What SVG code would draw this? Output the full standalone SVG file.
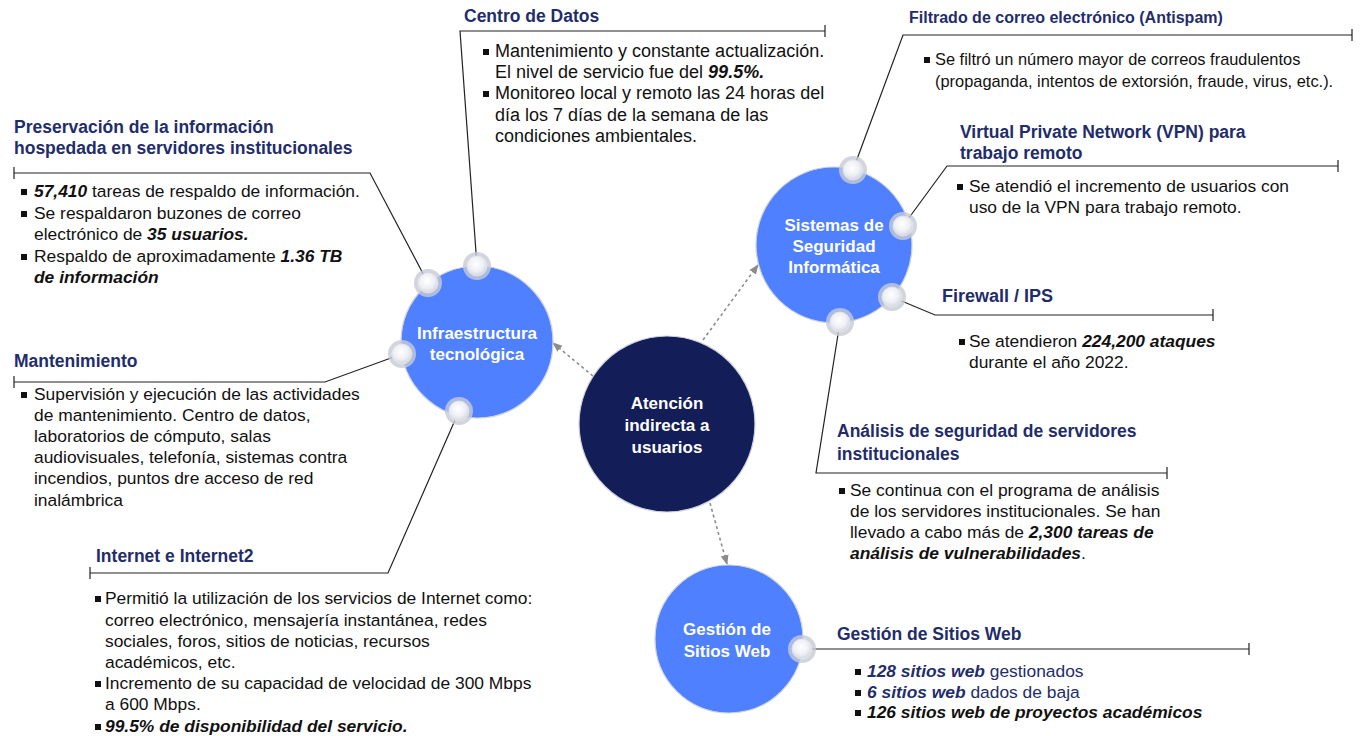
<svg xmlns="http://www.w3.org/2000/svg" width="1362" height="736" viewBox="0 0 1362 736">
<defs>
<style>
text{font-family:"Liberation Sans",Arial,sans-serif;}
.t{font-size:17.5px;font-weight:bold;fill:#1F2D6B;}
.b{font-size:17.4px;fill:#111;}
.bs{font-size:16.4px;fill:#111;}
.bl{font-size:18px;fill:#111;}
.bi{font-weight:bold;font-style:italic;}
.c{font-size:17px;font-weight:bold;fill:#fff;text-anchor:middle;}
.ln{stroke:#222;stroke-width:1.2;fill:none;}
.tk{stroke:#222;stroke-width:1.2;}
.ds{stroke:#8c8c8c;stroke-width:1.6;stroke-dasharray:3 3;fill:none;}
.blue{fill:#4F80FF;stroke:#cfd3dc;stroke-width:1.2;}
.navy{fill:#131D57;stroke:#cfd3dc;stroke-width:1.2;}
.halo{fill:#c7cbd6;opacity:0.8;}
.kin{fill:url(#kg);stroke:#e6e7ec;stroke-width:0.8;}
.sq{fill:#111;}
</style>
<radialGradient id="kg" cx="0.45" cy="0.4" r="0.6">
<stop offset="0" stop-color="#ffffff"/>
<stop offset="0.6" stop-color="#eef0f5"/>
<stop offset="1" stop-color="#d3d6df"/>
</radialGradient>
<marker id="ar" markerWidth="10" markerHeight="10" refX="9" refY="5" orient="auto" markerUnits="userSpaceOnUse">
<path d="M0,1 L10,5 L0,9 z" fill="#8c8c8c"/>
</marker>
</defs>
<rect width="1362" height="736" fill="#fff"/>

<g id="connectors">
<path class="ln" d="M14 173 H370 L428 283"/>
<line class="tk" x1="14" y1="167" x2="14" y2="179"/>
<path class="ln" d="M825 31 H460 L477 266"/>
<line class="tk" x1="825" y1="25" x2="825" y2="37"/>
<path class="ln" d="M1352 35 H903 L853 170"/>
<line class="tk" x1="1352" y1="29" x2="1352" y2="41"/>
<path class="ln" d="M1338 166 H947 L903 226"/>
<line class="tk" x1="1338" y1="160" x2="1338" y2="172"/>
<path class="ln" d="M892 297 L935 315 H1213"/>
<line class="tk" x1="1213" y1="309" x2="1213" y2="321"/>
<path class="ln" d="M840 322 L816 473 H1167"/>
<line class="tk" x1="1167" y1="467" x2="1167" y2="479"/>
<path class="ln" d="M14 382 H325 L402 354"/>
<line class="tk" x1="14" y1="376" x2="14" y2="388"/>
<path class="ln" d="M90 573 H388 L459 411"/>
<line class="tk" x1="90" y1="567" x2="90" y2="579"/>
<path class="ln" d="M802 649 H1249"/>
<line class="tk" x1="1249" y1="643" x2="1249" y2="655"/>
<path class="ds" d="M593 376 L553 343" marker-end="url(#ar)"/>
<path class="ds" d="M703 340 L758 265" marker-end="url(#ar)"/>
<path class="ds" d="M710 503 L727 564" marker-end="url(#ar)"/>
</g>

<g id="node-atencion">
<circle class="navy" cx="667" cy="424" r="88"/>
<text class="c" x="667" y="409">Atención</text>
<text class="c" x="667" y="431">indirecta a</text>
<text class="c" x="667" y="453">usuarios</text>
</g>

<g id="node-infraestructura">
<circle class="blue" cx="477" cy="342" r="76"/>
<text class="c" x="477" y="339">Infraestructura</text>
<text class="c" x="477" y="360">tecnológica</text>
<circle class="halo" cx="428" cy="283" r="14"/><circle class="kin" cx="428" cy="283" r="10"/>
<circle class="halo" cx="477" cy="266" r="14"/><circle class="kin" cx="477" cy="266" r="10"/>
<circle class="halo" cx="402" cy="354" r="14"/><circle class="kin" cx="402" cy="354" r="10"/>
<circle class="halo" cx="459" cy="411" r="14"/><circle class="kin" cx="459" cy="411" r="10"/>
</g>

<g id="node-seguridad">
<circle class="blue" cx="834" cy="245" r="78"/>
<text class="c" x="834" y="231">Sistemas de</text>
<text class="c" x="834" y="252">Seguridad</text>
<text class="c" x="834" y="273">Informática</text>
<circle class="halo" cx="853" cy="170" r="14"/><circle class="kin" cx="853" cy="170" r="10"/>
<circle class="halo" cx="903" cy="226" r="14"/><circle class="kin" cx="903" cy="226" r="10"/>
<circle class="halo" cx="892" cy="297" r="14"/><circle class="kin" cx="892" cy="297" r="10"/>
<circle class="halo" cx="840" cy="322" r="14"/><circle class="kin" cx="840" cy="322" r="10"/>
</g>

<g id="node-gestion">
<circle class="blue" cx="729" cy="639" r="74"/>
<text class="c" x="727" y="635">Gestión de</text>
<text class="c" x="727" y="657">Sitios Web</text>
<circle class="halo" cx="802" cy="649" r="14"/><circle class="kin" cx="802" cy="649" r="10"/>
</g>

<g id="node-preservacion">
<text class="t" x="14" y="133">Preservación de la información</text>
<text class="t" x="14" y="154">hospedada en servidores institucionales</text>
<rect class="sq" x="21" y="189" width="6" height="6"/>
<rect class="sq" x="21" y="211" width="6" height="6"/>
<rect class="sq" x="21" y="254" width="6" height="6"/>
<text class="b" x="34" y="197"><tspan class="bi">57,410</tspan> tareas de respaldo de información.</text>
<text class="b" x="34" y="219">Se respaldaron buzones de correo</text>
<text class="b" x="34" y="240">electrónico de <tspan class="bi">35 usuarios.</tspan></text>
<text class="b" x="34" y="262">Respaldo de aproximadamente <tspan class="bi">1.36 TB</tspan></text>
<text class="b" x="34" y="283"><tspan class="bi">de información</tspan></text>
</g>

<g id="node-centro-datos">
<text class="t" x="464" y="22">Centro de Datos</text>
<rect class="sq" x="483" y="49" width="6" height="6"/>
<rect class="sq" x="483" y="91" width="6" height="6"/>
<text class="bl" x="495" y="57">Mantenimiento y constante actualización.</text>
<text class="bl" x="495" y="78">El nivel de servicio fue del <tspan class="bi">99.5%.</tspan></text>
<text class="bl" x="495" y="99">Monitoreo local y remoto las 24 horas del</text>
<text class="bl" x="495" y="121">día los 7 días de la semana de las</text>
<text class="bl" x="495" y="142">condiciones ambientales.</text>
</g>

<g id="node-antispam">
<text class="t" x="909" y="23" style="font-size:16px">Filtrado de correo electrónico (Antispam)</text>
<rect class="sq" x="924" y="57" width="6" height="6"/>
<text class="bs" x="935" y="65">Se filtró un número mayor de correos fraudulentos</text>
<text class="bs" x="935" y="87">(propaganda, intentos de extorsión, fraude, virus, etc.).</text>
</g>

<g id="node-vpn">
<text class="t" x="960" y="138">Virtual Private Network (VPN) para</text>
<text class="t" x="960" y="159">trabajo remoto</text>
<rect class="sq" x="957" y="184" width="6" height="6"/>
<text class="b" x="969" y="192">Se atendió el incremento de usuarios con</text>
<text class="b" x="969" y="213">uso de la VPN para trabajo remoto.</text>
</g>

<g id="node-firewall">
<text class="t" x="942" y="302" style="font-size:18px">Firewall / IPS</text>
<rect class="sq" x="959" y="339" width="6" height="6"/>
<text class="b" x="969" y="347">Se atendieron <tspan class="bi">224,200 ataques</tspan></text>
<text class="b" x="969" y="368">durante el año 2022.</text>
</g>

<g id="node-analisis">
<text class="t" x="837" y="437">Análisis de seguridad de servidores</text>
<text class="t" x="837" y="460">institucionales</text>
<rect class="sq" x="839" y="488" width="6" height="6"/>
<text class="b" x="850" y="496">Se continua con el programa de análisis</text>
<text class="b" x="850" y="517">de los servidores institucionales. Se han</text>
<text class="b" x="850" y="538">llevado a cabo más de <tspan class="bi">2,300 tareas de</tspan></text>
<text class="b" x="850" y="559"><tspan class="bi">análisis de vulnerabilidades</tspan>.</text>
</g>

<g id="node-mantenimiento">
<text class="t" x="14" y="367">Mantenimiento</text>
<rect class="sq" x="21" y="392" width="6" height="6"/>
<text class="b" x="34" y="400">Supervisión y ejecución de las actividades</text>
<text class="b" x="34" y="421">de mantenimiento. Centro de datos,</text>
<text class="b" x="34" y="442">laboratorios de cómputo, salas</text>
<text class="b" x="34" y="463">audiovisuales, telefonía, sistemas contra</text>
<text class="b" x="34" y="484">incendios, puntos dre acceso de red</text>
<text class="b" x="34" y="506">inalámbrica</text>
</g>

<g id="node-internet">
<text class="t" x="96" y="562">Internet e Internet2</text>
<rect class="sq" x="95" y="596" width="6" height="6"/>
<rect class="sq" x="95" y="681" width="6" height="6"/>
<rect class="sq" x="95" y="724" width="6" height="6"/>
<text class="b" x="105" y="604">Permitió la utilización de los servicios de Internet como:</text>
<text class="b" x="105" y="626">correo electrónico, mensajería instantánea, redes</text>
<text class="b" x="105" y="647">sociales, foros, sitios de noticias, recursos</text>
<text class="b" x="105" y="668">académicos, etc.</text>
<text class="b" x="105" y="689">Incremento de su capacidad de velocidad de 300 Mbps</text>
<text class="b" x="105" y="710">a 600 Mbps.</text>
<text class="b" x="105" y="732"><tspan class="bi">99.5% de disponibilidad del servicio.</tspan></text>
</g>

<g id="node-sitios-web">
<text class="t" x="837" y="640">Gestión de Sitios Web</text>
<rect class="sq" x="855" y="669" width="6" height="6"/>
<rect class="sq" x="855" y="690" width="6" height="6"/>
<rect class="sq" x="855" y="710" width="6" height="6"/>
<text class="b" x="867" y="677" style="fill:#1F2D6B"><tspan class="bi">128 sitios web</tspan> gestionados</text>
<text class="b" x="867" y="698" style="fill:#1F2D6B"><tspan class="bi">6 sitios web</tspan> dados de baja</text>
<text class="b" x="867" y="718"><tspan class="bi">126 sitios web de proyectos académicos</tspan></text>
</g>
</svg>
